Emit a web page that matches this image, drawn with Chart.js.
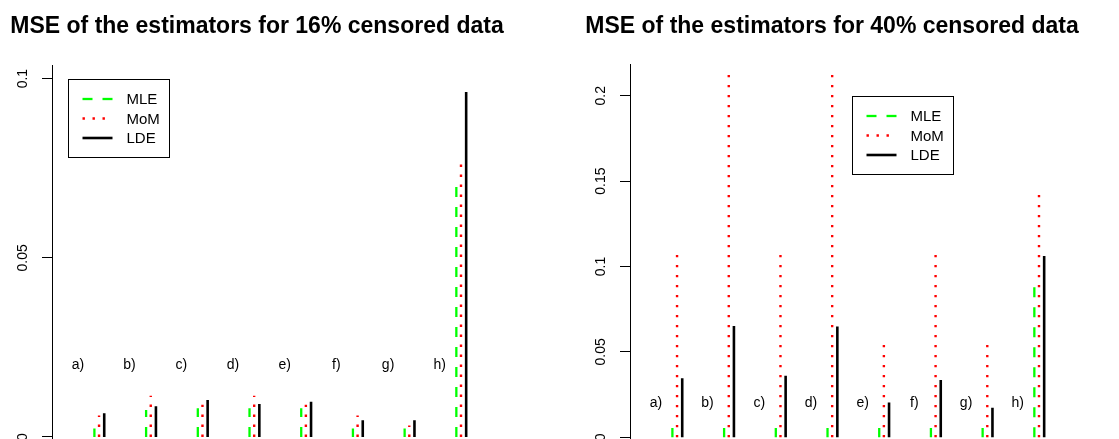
<!DOCTYPE html>
<html lang="en">
<head>
<meta charset="UTF-8">
<title>MSE of the estimators</title>
<script src="https://cdn.jsdelivr.net/npm/chart.js"></script>
<style>
  html, body { margin: 0; padding: 0; background: #fff; overflow: hidden; }
  #wrap { position: relative; width: 1119px; height: 439px; }
  .panel { position: absolute; top: 0; height: 439px; }
</style>
</head>
<body>
<div id="wrap">
  <div class="panel" style="left:0;width:560px"><canvas id="chart16" width="560" height="439"></canvas></div>
  <div class="panel" style="left:560px;width:559px"><canvas id="chart40" width="559" height="439"></canvas></div>
</div>
<script>
// data
var groups = ['a)', 'b)', 'c)', 'd)', 'e)', 'f)', 'g)', 'h)'];
var estimators = ['MLE', 'MoM', 'LDE'];

var mle16 = [0.0024, 0.0075, 0.0080, 0.0080, 0.0080, 0.0024, 0.0024, 0.0710];
var mom16 = [0.0060, 0.0115, 0.0090, 0.0115, 0.0090, 0.0060, 0.0032, 0.0775];
var lde16 = [0.0066, 0.0086, 0.0103, 0.0092, 0.0098, 0.0047, 0.0047, 0.0963];

var mle40 = [0.0055, 0.0055, 0.0055, 0.0055, 0.0055, 0.0055, 0.0055, 0.0885];
var mom40 = [0.1080, 0.2150, 0.1080, 0.2150, 0.0545, 0.1080, 0.0545, 0.1440];
var lde40 = [0.0345, 0.0652, 0.0361, 0.0648, 0.0203, 0.0335, 0.0173, 0.1061];

var yTicks16 = [0, 0.05, 0.1];
var yTickLabels16 = ['0', '0.05', '0.1'];
var yTicks40 = [0, 0.05, 0.1, 0.15, 0.2];
var yTickLabels40 = ['0', '0.05', '0.1', '0.15', '0.2'];

var FONT = '"Liberation Sans", Arial, Helvetica, sans-serif';

// each estimator sits a little to the right of its group label
var offsets = [0.32, 0.41, 0.51];
var styles = [
  { borderColor: '#00ff00', borderWidth: 2.3, borderDash: [10, 10] },
  { borderColor: '#ff0000', borderWidth: 2.4, borderDash: [2.4, 7.6] },
  { borderColor: '#000000', borderWidth: 2.6, borderDash: [] }
];

// vertical "type h" segments: (x,0) -> (x,v), then a gap
function spikes(values, off) {
  var pts = [];
  values.forEach(function (v, i) {
    var x = i + 1 + off;
    pts.push({ x: x, y: 0 }, { x: x, y: v }, { x: x, y: null });
  });
  return pts;
}

function makeDatasets(series) {
  return series.map(function (vals, k) {
    return {
      label: estimators[k],
      data: spikes(vals, offsets[k]),
      borderColor: styles[k].borderColor,
      borderWidth: styles[k].borderWidth,
      borderDash: styles[k].borderDash,
      borderCapStyle: 'butt',
      pointRadius: 0,
      fill: false,
      tension: 0,
      spanGaps: false
    };
  });
}

var decoPlugin = {
  id: 'deco',
  afterDraw: function (chart) {
    var o = chart.options.plugins.deco;
    var ctx = chart.ctx;
    var xs = chart.scales.x, ys = chart.scales.y;
    var area = chart.chartArea;
    ctx.save();

    // title
    ctx.fillStyle = '#000';
    ctx.font = 'bold 23px ' + FONT;
    ctx.textAlign = 'center';
    ctx.textBaseline = 'alphabetic';
    ctx.fillText(o.title, o.titleX, 33);

    // y tick labels, rotated like R
    ctx.font = '14px ' + FONT;
    ctx.textBaseline = 'middle';
    o.ticks.forEach(function (v, i) {
      var y = ys.getPixelForValue(v);
      ctx.save();
      ctx.translate(area.left - 28.5, y);
      ctx.rotate(-Math.PI / 2);
      ctx.fillText(o.tickLabels[i], 0, 0);
      ctx.restore();
    });

    // group labels
    groups.forEach(function (g, i) {
      ctx.fillText(g, xs.getPixelForValue(i + 1), ys.getPixelForValue(o.labelY));
    });

    // legend box
    var bx = Math.round(xs.getPixelForValue(o.legendX)) + 0.5;
    var by = Math.round(ys.getPixelForValue(o.legendY)) + 0.5;
    ctx.strokeStyle = '#000';
    ctx.lineWidth = 1;
    ctx.setLineDash([]);
    ctx.strokeRect(bx, by, 101, 78);
    ctx.font = '15px ' + FONT;
    ctx.textAlign = 'left';
    chart.data.datasets.forEach(function (ds, k) {
      var ly = by + 19.5 + k * 19.5;
      ctx.beginPath();
      ctx.strokeStyle = ds.borderColor;
      ctx.lineWidth = ds.borderWidth;
      ctx.setLineDash(ds.borderDash);
      ctx.lineCap = 'butt';
      ctx.moveTo(bx + 14, ly);
      ctx.lineTo(bx + 44, ly);
      ctx.stroke();
      ctx.fillStyle = '#000';
      ctx.fillText(ds.label, bx + 58, ly + 1);
    });
    ctx.restore();
  }
};

function makeChart(id, series, cfg) {
  return new Chart(document.getElementById(id), {
    type: 'line',
    data: { datasets: makeDatasets(series) },
    plugins: [decoPlugin],
    options: {
      responsive: false,
      animation: false,
      devicePixelRatio: 1,
      layout: { padding: { top: cfg.top, left: 0, right: cfg.right, bottom: 0 } },
      plugins: {
        legend: { display: false },
        tooltip: { enabled: false },
        deco: cfg.deco
      },
      scales: {
        x: { type: 'linear', display: false, min: 0.5, max: 9 },
        y: {
          type: 'linear',
          min: cfg.ymin,
          max: cfg.ymax,
          afterFit: function (s) { s.width = cfg.axisX; },
          afterBuildTicks: function (s) {
            s.ticks = cfg.deco.ticks.map(function (v) { return { value: v }; });
          },
          ticks: { display: false },
          grid: { drawOnChartArea: false, drawTicks: true, tickLength: 10, color: '#000', lineWidth: 1 },
          border: { display: true, color: '#000', width: 1 }
        }
      }
    }
  });
}

makeChart('chart16', [mle16, mom16, lde16], {
  top: 65, right: 68.5, axisX: 52, ymin: -0.00056, ymax: 0.1038,
  deco: {
    title: 'MSE of the estimators for 16% censored data', titleX: 257,
    ticks: yTicks16, tickLabels: yTickLabels16, labelY: 0.02,
    legendX: 0.8, legendY: 0.1
  }
});

makeChart('chart40', [mle40, mom40, lde40], {
  top: 64.3, right: 49.5, axisX: 70, ymin: -0.001, ymax: 0.2184,
  deco: {
    title: 'MSE of the estimators for 40% censored data', titleX: 272,
    ticks: yTicks40, tickLabels: yTickLabels40, labelY: 0.02,
    legendX: 4.8, legendY: 0.2
  }
});
</script>
</body>
</html>
